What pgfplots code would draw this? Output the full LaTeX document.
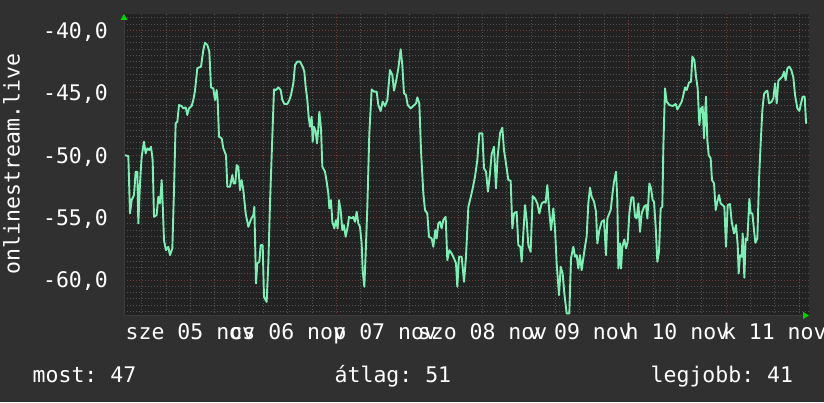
\documentclass[border=0pt]{standalone}
\usepackage{fontspec}
\setmainfont{DejaVu Sans Mono}
\usepackage{pgfplots}
\pgfplotsset{compat=1.18}
\usepackage{pgfplotstable}
\usetikzlibrary{arrows.meta}
\definecolor{bgout}{RGB}{48,48,48}
\definecolor{bgplot}{RGB}{34,34,34}
\definecolor{gridgray}{RGB}{84,84,84}
\definecolor{gridred}{RGB}{120,56,56}
\definecolor{linecol}{RGB}{122,240,180}
\definecolor{arrowgreen}{RGB}{0,210,0}
\definecolor{axisgray}{RGB}{60,60,60}
\frenchspacing

\pgfplotstableread{
h v
-4.115 -50.00
-3.294 -50.07
-2.883 -54.66
-2.472 -53.59
-1.897 -53.19
-1.487 -51.32
-1.076 -51.32
-0.829 -55.46
-0.419 -52.26
-0.008 -50.12
0.567 -48.92
0.978 -49.85
1.388 -49.45
1.881 -49.59
2.292 -49.32
2.702 -50.39
3.031 -54.93
3.688 -54.79
4.099 -53.32
4.509 -53.86
4.920 -51.99
5.167 -53.86
5.495 -56.80
5.988 -57.60
6.563 -57.33
6.974 -58.00
7.549 -57.46
7.959 -52.79
8.370 -47.45
8.781 -47.32
9.191 -45.98
9.848 -46.06
10.259 -46.25
10.834 -46.17
11.245 -46.78
11.655 -46.25
12.312 -46.06
12.723 -45.58
13.134 -44.83
13.709 -43.04
14.612 -42.91
15.187 -41.58
15.598 -40.99
16.173 -41.17
16.666 -41.71
17.077 -44.57
17.651 -44.65
18.062 -45.58
18.473 -44.78
18.719 -45.58
19.048 -48.52
19.705 -48.65
20.115 -49.45
20.773 -49.99
21.101 -52.52
21.758 -52.52
22.333 -51.59
22.662 -52.26
23.072 -52.26
23.401 -50.79
23.812 -50.92
24.222 -52.79
24.633 -51.99
25.044 -52.79
25.619 -54.66
26.276 -55.73
26.851 -55.19
27.508 -54.79
27.755 -54.13
28.166 -60.27
28.494 -58.66
28.987 -58.53
29.317 -57.20
29.809 -57.20
30.138 -61.34
30.793 -61.74
31.204 -58.66
31.615 -53.86
32.190 -48.52
32.600 -44.73
33.093 -44.78
33.668 -44.57
34.243 -44.78
34.654 -45.58
35.147 -45.90
35.886 -45.90
36.379 -45.58
36.790 -45.18
37.364 -44.25
37.775 -42.78
38.350 -42.51
39.007 -42.51
39.664 -42.91
40.075 -43.31
40.404 -44.51
40.814 -45.58
41.143 -46.92
41.471 -47.72
41.882 -46.92
42.128 -48.92
42.457 -47.72
42.868 -48.12
43.196 -49.05
43.525 -47.85
43.771 -46.52
44.182 -47.85
44.511 -50.92
45.168 -51.32
45.578 -52.12
45.989 -53.06
46.235 -54.26
46.646 -53.59
46.975 -55.33
47.468 -55.86
47.878 -55.19
48.289 -55.86
48.617 -53.59
49.028 -54.39
49.439 -55.99
49.850 -55.59
50.260 -56.53
50.753 -55.73
51.082 -54.93
51.738 -55.06
52.149 -54.93
52.560 -55.33
52.970 -54.53
53.381 -55.46
53.79 -55.73
54.20 -57.06
54.45 -59.20
54.86 -60.53
55.19 -57.86
55.60 -54.13
56.09 -48.25
56.67 -44.73
57.24 -44.91
57.90 -44.91
58.31 -45.98
58.88 -46.46
59.38 -45.71
59.95 -46.06
60.53 -45.58
61.18 -43.18
61.76 -43.58
62.17 -44.83
62.66 -44.11
63.24 -43.04
63.81 -41.52
64.22 -42.78
64.63 -45.05
65.12 -45.18
65.54 -45.98
66.27 -46.25
66.93 -46.06
67.59 -45.85
67.92 -45.37
68.41 -45.85
68.82 -49.59
69.40 -53.06
69.81 -54.39
70.38 -54.66
70.79 -56.53
71.45 -56.66
71.86 -57.33
72.35 -55.99
72.68 -56.66
73.09 -55.46
73.50 -55.33
73.91 -55.86
74.32 -55.19
74.90 -54.93
75.31 -58.40
75.80 -57.60
76.38 -57.86
76.95 -58.26
77.45 -58.66
77.77 -60.53
78.18 -58.13
78.84 -58.13
79.42 -60.13
79.91 -58.13
80.49 -54.13
80.90 -53.59
81.47 -52.79
82.13 -51.72
82.70 -50.39
83.20 -48.25
83.93 -48.25
84.35 -51.05
84.84 -51.32
85.33 -52.92
85.82 -51.46
86.23 -49.91
86.81 -49.32
87.30 -52.66
87.71 -50.12
88.29 -48.25
88.86 -47.80
89.27 -49.59
89.77 -50.65
90.34 -51.99
90.92 -52.04
91.33 -55.86
91.74 -54.66
92.39 -54.53
92.81 -57.20
93.30 -57.33
93.63 -58.53
94.04 -56.26
94.45 -53.99
94.86 -55.19
95.27 -57.20
95.84 -57.73
96.34 -53.27
96.91 -53.46
97.49 -53.86
97.98 -54.66
98.56 -53.86
99.13 -53.72
99.54 -53.80
99.95 -52.39
100.44 -54.53
100.86 -55.99
101.43 -54.26
101.84 -55.86
102.25 -58.66
102.83 -61.20
103.24 -58.93
103.73 -59.47
104.14 -61.07
104.72 -62.67
105.37 -62.67
105.78 -58.26
106.36 -57.33
106.77 -58.13
107.18 -58.00
107.59 -59.07
108.00 -58.00
108.41 -59.20
108.82 -58.26
109.23 -57.33
109.64 -56.53
110.05 -53.86
110.46 -52.60
110.88 -53.32
111.46 -53.72
111.95 -54.53
112.28 -57.06
112.77 -55.99
113.34 -55.33
113.92 -55.19
114.41 -58.00
114.74 -55.06
115.23 -54.66
115.56 -54.39
115.97 -53.19
116.38 -52.12
116.88 -51.32
117.20 -53.59
117.45 -59.07
117.86 -57.06
118.11 -59.07
118.44 -57.33
118.93 -56.74
119.34 -57.46
119.75 -56.93
120.16 -54.66
120.66 -53.38
121.15 -53.38
121.56 -54.93
121.97 -55.06
122.38 -53.86
122.79 -56.13
123.20 -54.66
123.78 -54.13
124.27 -53.99
124.60 -55.06
125.09 -52.26
125.50 -52.66
125.91 -53.59
126.24 -53.72
126.65 -55.73
127.06 -58.53
127.47 -57.73
127.88 -54.26
128.29 -54.13
128.54 -49.32
128.95 -44.65
129.36 -45.71
130.02 -45.98
130.84 -46.06
131.58 -45.90
131.99 -46.33
132.48 -46.06
133.06 -45.71
133.47 -45.18
133.88 -44.57
134.29 -44.78
134.86 -44.19
135.36 -44.11
135.69 -42.11
136.18 -42.38
136.59 -43.71
137.00 -44.65
137.41 -47.58
137.82 -46.25
138.23 -46.11
138.56 -48.65
138.81 -46.78
139.05 -45.31
139.38 -48.79
139.71 -49.99
140.20 -50.25
140.53 -51.99
141.03 -52.26
141.44 -54.39
141.85 -53.72
142.26 -53.19
142.67 -53.86
143.16 -53.99
143.57 -54.13
143.98 -57.33
144.39 -53.99
144.97 -53.91
145.38 -55.33
145.95 -56.26
146.45 -55.59
146.86 -57.20
147.10 -59.47
147.43 -58.00
147.84 -58.13
148.09 -56.26
148.50 -59.81
148.83 -56.66
149.24 -56.80
149.73 -53.51
150.06 -54.66
150.47 -54.66
150.88 -55.99
151.21 -57.01
151.70 -56.66
152.11 -51.99
152.52 -49.05
152.94 -46.38
153.35 -45.10
153.76 -44.91
154.17 -44.83
154.58 -45.85
155.24 -45.71
155.65 -45.45
156.06 -44.25
156.47 -45.85
156.88 -44.03
157.45 -43.85
157.95 -43.66
158.27 -43.31
158.69 -43.98
159.10 -43.04
159.59 -42.91
160.08 -43.18
160.57 -43.77
160.99 -45.18
161.56 -46.25
162.05 -46.46
162.46 -45.85
162.87 -45.31
163.37 -45.31
163.70 -47.40
163.86 -47.45
}\datatable

\begin{document}
\begin{tikzpicture}[font=\fontsize{21.5}{26}\selectfont\frenchspacing, x=1pt, y=1pt]
\path[use as bounding box, fill=bgout] (0,0) rectangle (824,402);
\begin{axis}[
  at={(124pt,86.5pt)}, anchor=south west,
  scale only axis, width=685pt, height=301.5pt,
  xmin=-4.36, xmax=164.43, ymin=-62.83, ymax=-38.695,
  axis background/.style={fill=bgplot},
  axis x line*=bottom, axis y line*=left,
  axis line style={draw=axisgray, line width=1pt, -{Triangle[color=arrowgreen, length=6pt, width=7pt]}},
  xtick={0,24,48,72,96,120,144},
  xticklabels={,,,,,,},
  minor xtick={6,12,18,30,36,42,54,60,66,78,84,90,102,108,114,126,132,138,150,156,162},
  extra x ticks={12,36,60,84,108,132,156},
  extra x tick labels={sze 05 nov,cs 06 nov,p 07 nov,szo 08 nov,v 09 nov,h 10 nov,k 11 nov},
  extra x tick style={grid=none},
  ytick={-60,-55,-50,-45,-40},
  yticklabels={{-60,0},{-55,0},{-50,0},{-45,0},{-40,0}},
  minor ytick={-62.5,-62,-61.5,-61,-60.5,-59.5,-59,-58.5,-58,-57.5,-57,-56.5,-56,-55.5,-54.5,-54,-53.5,-53,-52.5,-52,-51.5,-51,-50.5,-49.5,-49,-48.5,-48,-47.5,-47,-46.5,-46,-45.5,-44.5,-44,-43.5,-43,-42.5,-42,-41.5,-41,-40.5,-39.5,-39},
  grid=both,
  major grid style={draw=gridred, line width=1pt, dash pattern=on 1pt off 2pt},
  minor grid style={draw=gridgray, line width=1pt, dash pattern=on 1pt off 2pt},
  major tick length=0pt, minor tick length=0pt,
  tick style={draw=none},
  xticklabel style={anchor=base, inner sep=0pt, yshift=-24pt, text=white},
  yticklabel style={anchor=base east, inner sep=0pt, xshift=-16pt, yshift=-7.8pt, text=white},
  clip=true,
]
\addplot[draw=linecol, line width=1.9pt, line join=round] table[x=h, y=v] {\datatable};
\end{axis}
\node[rotate=90, anchor=base, text=white, inner sep=0pt] at (19.7,238) {onlinestream.live};
\node[anchor=base west, text=white, inner sep=0pt] at (32.5,20) {most: 47};
\node[anchor=base west, text=white, inner sep=0pt] at (334.5,20) {átlag: 51};
\node[anchor=base west, text=white, inner sep=0pt] at (650.5,20) {legjobb: 41};
\end{tikzpicture}
\end{document}
